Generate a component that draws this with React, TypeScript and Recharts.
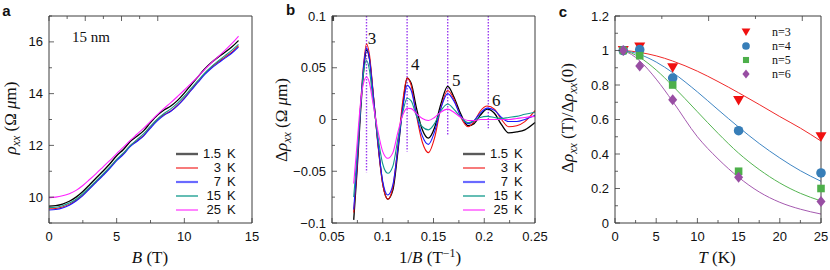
import type { ReactNode } from 'react';
import {
  LineChart,
  ComposedChart,
  Line,
  Scatter,
  XAxis,
  YAxis,
  ReferenceLine,
  ReferenceDot,
} from 'recharts';

const SANS = '"Liberation Sans", Arial, Helvetica, sans-serif';
const SERIF = '"Liberation Serif", "Times New Roman", serif';
const FRAME = '#3c3c3c';

// ---------- panel a : rho_xx vs B ----------
const fieldB = [
  0, 0.5, 1, 1.5, 2, 2.5, 3, 3.5, 4, 4.5, 5, 5.5, 6, 6.5, 7, 7.5, 8, 8.5, 9, 9.5, 10, 10.5, 11,
  11.5, 12, 12.5, 13, 13.5, 14,
];
const rho1p5 = [
  9.65, 9.67, 9.73, 9.84, 10.0, 10.22, 10.48, 10.75, 11.01, 11.29, 11.6, 11.84, 12.15, 12.35, 12.57,
  12.88, 13.16, 13.37, 13.52, 13.74, 14.02, 14.34, 14.65, 14.95, 15.2, 15.41, 15.6, 15.8, 16.05,
];
const rho3 = [
  9.55, 9.56, 9.62, 9.72, 9.88, 10.09, 10.35, 10.61, 10.87, 11.14, 11.45, 11.68, 11.99, 12.18, 12.39,
  12.71, 12.99, 13.19, 13.33, 13.55, 13.83, 14.15, 14.46, 14.77, 15.02, 15.22, 15.41, 15.6, 15.85,
];
const rho7 = [
  9.5, 9.52, 9.58, 9.69, 9.85, 10.06, 10.32, 10.58, 10.84, 11.11, 11.41, 11.65, 11.95, 12.15, 12.37,
  12.67, 12.95, 13.16, 13.32, 13.54, 13.81, 14.12, 14.43, 14.73, 14.98, 15.18, 15.37, 15.56, 15.8,
];
const rho15 = [
  9.6, 9.61, 9.67, 9.77, 9.92, 10.13, 10.38, 10.64, 10.9, 11.17, 11.46, 11.71, 11.99, 12.22, 12.45,
  12.74, 13.01, 13.23, 13.41, 13.63, 13.9, 14.2, 14.5, 14.79, 15.04, 15.26, 15.47, 15.67, 15.9,
];
const rho25 = [
  9.98, 10.0, 10.05, 10.13, 10.26, 10.45, 10.68, 10.92, 11.17, 11.42, 11.68, 11.93, 12.19, 12.43,
  12.67, 12.93, 13.19, 13.43, 13.65, 13.89, 14.14, 14.4, 14.66, 14.93, 15.19, 15.43, 15.67, 15.93,
  16.22,
];
const aXTicks = [0, 2.5, 5, 7.5, 10, 12.5, 15];
const aXMajor = [0, 5, 10, 15];
const aYTicks = [9, 10, 11, 12, 13, 14, 15, 16, 17];
const aYMajor = [10, 12, 14, 16];

// ---------- panel b : delta rho vs 1/B ----------
const invB = [
  0.0714, 0.075, 0.078, 0.081, 0.084, 0.087, 0.09, 0.095, 0.1, 0.105, 0.11, 0.115, 0.12, 0.124,
  0.128, 0.133, 0.139, 0.145, 0.151, 0.157, 0.164, 0.17, 0.177, 0.184, 0.19, 0.196, 0.203, 0.21,
  0.217, 0.224, 0.232, 0.24, 0.25,
];
const d1p5 = [
  -0.097, -0.045, 0.005, 0.045, 0.067, 0.058, 0.03, -0.02, -0.062, -0.077, -0.068, -0.03, 0.015,
  0.04, 0.035, 0.012, -0.01, -0.018, -0.008, 0.014, 0.032, 0.022, 0.005, -0.006, -0.004, 0.004,
  0.01, 0.006, -0.005, -0.013, -0.012, -0.01, -0.003,
];
const d3 = [
  -0.09, -0.04, 0.012, 0.052, 0.073, 0.062, 0.032, -0.022, -0.063, -0.077, -0.065, -0.025, 0.02,
  0.04, 0.033, 0.005, -0.022, -0.032, -0.018, 0.01, 0.028, 0.02, 0.002, -0.007, -0.002, 0.008,
  0.013, 0.01, 0.0, -0.007, -0.006, -0.002, 0.0085,
];
const d7 = [
  -0.087, -0.038, 0.01, 0.05, 0.069, 0.058, 0.03, -0.02, -0.06, -0.073, -0.063, -0.027, 0.013,
  0.033, 0.028, 0.006, -0.016, -0.024, -0.012, 0.01, 0.025, 0.018, 0.003, -0.004, -0.001, 0.006,
  0.011, 0.009, 0.002, -0.002, -0.002, 0.0, 0.004,
];
const d15 = [
  -0.075, -0.03, 0.01, 0.045, 0.057, 0.047, 0.022, -0.015, -0.043, -0.052, -0.045, -0.018, 0.008,
  0.0205, 0.018, 0.004, -0.007, -0.01, -0.004, 0.008, 0.015, 0.01, 0.002, -0.003, -0.001, 0.002,
  0.003, 0.002, 0.001, 0.002, 0.003, 0.005, 0.007,
];
const d25 = [
  -0.062, -0.02, 0.015, 0.035, 0.041, 0.035, 0.018, -0.01, -0.031, -0.0375, -0.032, -0.012, 0.005,
  0.0108, 0.0105, 0.006, 0.001, -0.001, 0.002, 0.007, 0.01, 0.007, 0.002, -0.001, -0.001, 0.0, 0.0,
  0.0, 0.0, 0.0, 0.001, 0.002, 0.003,
];
const peakInvB = [0.084, 0.124, 0.164, 0.204];
const peakLineEnd = [-0.051, -0.031, -0.016, -0.0085];
const peakIndex = ['3', '4', '5', '6'];
const peakLabelX = [0.0894, 0.1321, 0.1725, 0.2119];
const peakLabelY = [0.0784, 0.0533, 0.0382, 0.0188];
const bXTicks = [0.05, 0.075, 0.1, 0.125, 0.15, 0.175, 0.2, 0.225, 0.25];
const bXMajor = [0.05, 0.1, 0.15, 0.2, 0.25];
const bYTicks = [-0.1, -0.075, -0.05, -0.025, 0, 0.025, 0.05, 0.075, 0.1];
const bYMajor = [-0.1, -0.05, 0, 0.05, 0.1];

// ---------- panel c : normalised amplitude vs T ----------
const temps = [1, 3, 7, 15, 25];
const amp3 = [1.0, 1.02, 0.9, 0.71, 0.5];
const amp4 = [1.0, 1.005, 0.84, 0.535, 0.29];
const amp5 = [1.0, 0.97, 0.8, 0.3, 0.2];
const amp6 = [1.0, 0.91, 0.715, 0.265, 0.125];
const fitT = [1, 2, 3, 5, 7, 10, 12.5, 15, 17.5, 20, 22.5, 25];
const fit3 = [1.0, 0.996, 0.989, 0.969, 0.939, 0.88, 0.82, 0.755, 0.687, 0.617, 0.55, 0.475];
const fit4 = [1.0, 0.991, 0.977, 0.933, 0.872, 0.76, 0.657, 0.556, 0.461, 0.377, 0.303, 0.242];
const fit5 = [1.0, 0.985, 0.96, 0.887, 0.795, 0.645, 0.52, 0.405, 0.31, 0.232, 0.172, 0.128];
const fit6 = [1.0, 0.977, 0.94, 0.834, 0.705, 0.5, 0.372, 0.265, 0.18, 0.12, 0.08, 0.052];
const cXTicks = [0, 2.5, 5, 7.5, 10, 12.5, 15, 17.5, 20, 22.5, 25];
const cXMajor = [0, 5, 10, 15, 20, 25];
const cYTicks = [0, 0.1, 0.2, 0.3, 0.4, 0.5, 0.6, 0.7, 0.8, 0.9, 1, 1.1, 1.2];
const cYMajor = [0, 0.2, 0.4, 0.6, 0.8, 1, 1.2];

const tempLabels = ['1.5', '3', '7', '15', '25'];
const tempStyle = [
  { color: '#000000', width: 1.3, legend: '#5a5a5a', legendWidth: 2.4 },
  { color: '#f01010', width: 1.1, legend: '#f01010', legendWidth: 1.1 },
  { color: '#1a1aff', width: 1.1, legend: '#6a6aff', legendWidth: 2.2 },
  { color: '#109a8c', width: 1.1, legend: '#109a8c', legendWidth: 1.3 },
  { color: '#ff20ff', width: 1.1, legend: '#ff20ff', legendWidth: 1.1 },
];
const seriesKeys = ['t1', 't3', 't7', 't15', 't25'];

const nLabels = ['n=3', 'n=4', 'n=5', 'n=6'];
const nColor = ['#f01010', '#377eb8', '#4daf4a', '#984ea3'];
const nLine = ['#f02a2a', '#3f86c4', '#55b552', '#a55ab0'];

type Side = 'bottom' | 'top' | 'left' | 'right';

const fmtPlain = (v: number) => String(v);
const fmtSigned = (v: number) => (v === 0 ? '0' : (v < 0 ? '\u2212' : '') + String(Math.abs(v)));

function makeTick(side: Side, majors: number[], fmt?: (v: number) => string) {
  return function Tick(props: any) {
    const { x, y, payload } = props;
    const v = payload.value as number;
    const major = majors.some((m) => Math.abs(m - v) < 1e-9);
    const len = major ? 5 : 3;
    let x2 = x;
    let y2 = y;
    if (side === 'bottom') y2 = y - len;
    if (side === 'top') y2 = y + len;
    if (side === 'left') x2 = x + len;
    if (side === 'right') x2 = x - len;
    return (
      <g>
        <line x1={x} y1={y} x2={x2} y2={y2} stroke={FRAME} strokeWidth={0.8} />
        {fmt && major && side === 'bottom' && (
          <text x={x} y={y + 18} textAnchor="middle" fontFamily={SANS} fontSize={13} fill="#111">
            {fmt(v)}
          </text>
        )}
        {fmt && major && side === 'left' && (
          <text x={x - 6} y={y + 4.5} textAnchor="end" fontFamily={SANS} fontSize={13} fill="#111">
            {fmt(v)}
          </text>
        )}
      </g>
    );
  };
}

function frameAxes(
  xDom: [number, number],
  xTicks: number[],
  xMajor: number[],
  xFmt: (v: number) => string,
  yDom: [number, number],
  yTicks: number[],
  yMajor: number[],
  yFmt: (v: number) => string,
  yWidth: number,
  xKey: string,
) {
  const common = {
    type: 'number' as const,
    interval: 0 as const,
    tickSize: 0,
    tickMargin: 0,
    tickLine: false,
    axisLine: { stroke: FRAME, strokeWidth: 1 },
  };
  return [
    <XAxis key="xb" xAxisId={0} dataKey={xKey} domain={xDom} ticks={xTicks} height={30}
      tick={makeTick('bottom', xMajor, xFmt)} {...common} />,
    <XAxis key="xt" xAxisId="top" orientation="top" domain={xDom} ticks={xTicks} height={1}
      tick={makeTick('top', xMajor)} {...common} />,
    <YAxis key="yl" yAxisId={0} domain={yDom} ticks={yTicks} width={yWidth}
      tick={makeTick('left', yMajor, yFmt)} {...common} />,
    <YAxis key="yr" yAxisId="right" orientation="right" domain={yDom} ticks={yTicks} width={1}
      tick={makeTick('right', yMajor)} {...common} />,
  ];
}

function Txt({ x, y, size = 17, rotate = false, font = SERIF, weight = 400, children }: {
  x: number; y: number; size?: number; rotate?: boolean; font?: string; weight?: number; children: ReactNode;
}) {
  return (
    <div
      style={{
        position: 'absolute', left: x, top: y, fontFamily: font, fontSize: size, fontWeight: weight,
        lineHeight: 1, whiteSpace: 'nowrap', color: '#111',
        transform: `translate(-50%, -50%)${rotate ? ' rotate(-90deg)' : ''}`,
      }}
    >
      {children}
    </div>
  );
}

const Sub = ({ children }: { children: ReactNode }) => (
  <span style={{ fontSize: '0.7em', position: 'relative', top: '0.3em', fontStyle: 'italic' }}>{children}</span>
);

function TempLegend({ left, top }: { left: number; top: number }) {
  return (
    <div style={{ position: 'absolute', left, top, width: 62, fontFamily: SANS, fontSize: 13, color: '#111' }}>
      {tempLabels.map((t, i) => (
        <div key={t} style={{ position: 'relative', height: 14 }}>
          <svg width={23} height={14} style={{ position: 'absolute', left: 0, top: 0 }}>
            <line x1={0} y1={7} x2={22} y2={7} stroke={tempStyle[i].legend} strokeWidth={tempStyle[i].legendWidth} />
          </svg>
          <span style={{ position: 'absolute', right: 17, top: 0, lineHeight: '14px' }}>{t}</span>
          <span style={{ position: 'absolute', left: 51, top: 0, lineHeight: '14px' }}>K</span>
        </div>
      ))}
    </div>
  );
}

function markerPath(kind: number, cx: number, cy: number, s = 1) {
  if (kind === 0) return `M${cx - 5.5 * s},${cy - 4.5 * s}L${cx + 5.5 * s},${cy - 4.5 * s}L${cx},${cy + 5 * s}Z`;
  if (kind === 2) return `M${cx - 3.8 * s},${cy - 3.8 * s}h${7.6 * s}v${7.6 * s}h${-7.6 * s}Z`;
  if (kind === 3) return `M${cx},${cy - 5.5 * s}L${cx + 4.5 * s},${cy}L${cx},${cy + 5.5 * s}L${cx - 4.5 * s},${cy}Z`;
  return '';
}

function Marker({ kind, cx, cy, fill, s = 1 }: { kind: number; cx: number; cy: number; fill: string; s?: number }) {
  if (kind === 1) return <circle cx={cx} cy={cy} r={4.8 * s} fill={fill} />;
  return <path d={markerPath(kind, cx, cy, s)} fill={fill} />;
}

function PanelA() {
  const rows = fieldB.map((b, i) => ({
    b, t1: rho1p5[i], t3: rho3[i], t7: rho7[i], t15: rho15[i], t25: rho25[i],
  }));
  return (
    <LineChart width={270} height={270} data={rows} margin={{ top: 15, right: 17, bottom: 17, left: 0 }}>
      {frameAxes([0, 15], aXTicks, aXMajor, fmtPlain, [9, 17], aYTicks, aYMajor, fmtPlain, 49, 'b')}
      {seriesKeys.map((k, i) => (
        <Line key={k} dataKey={k} type="monotone" dot={false} stroke={tempStyle[i].color}
          strokeWidth={tempStyle[i].width} isAnimationActive={false} />
      ))}
    </LineChart>
  );
}

function PanelB() {
  const rows = invB.map((x, i) => ({
    x, t1: d1p5[i], t3: d3[i], t7: d7[i], t15: d15[i], t25: d25[i],
  }));
  return (
    <LineChart width={290} height={270} data={rows} margin={{ top: 15, right: 29, bottom: 17, left: 0 }}>
      {frameAxes([0.05, 0.25], bXTicks, bXMajor, fmtPlain, [-0.1, 0.1], bYTicks, bYMajor, fmtSigned, 57, 'x')}
      {peakInvB.map((p, i) => (
        <ReferenceLine key={`pl${i}`} segment={[{ x: p, y: 0.1 }, { x: p, y: peakLineEnd[i] }]}
          stroke="#9a3cf0" strokeWidth={1.4} strokeDasharray="1.4 1.6" />
      ))}
      {seriesKeys.map((k, i) => (
        <Line key={k} dataKey={k} type="monotone" dot={false} stroke={tempStyle[i].color}
          strokeWidth={tempStyle[i].width} isAnimationActive={false} />
      ))}
      {peakIndex.map((n, i) => (
        <ReferenceDot key={`pd${i}`} x={peakLabelX[i]} y={peakLabelY[i]} r={0.5} fill="none" stroke="none"
          label={{ value: n, position: 'center', fontSize: 17, fontFamily: SERIF, fill: '#111' }} />
      ))}
    </LineChart>
  );
}

function PanelC() {
  const fitRows = fitT.map((T, i) => ({ T, f3: fit3[i], f4: fit4[i], f5: fit5[i], f6: fit6[i] }));
  const ampSets = [amp3, amp4, amp5, amp6];
  const fitKeys = ['f3', 'f4', 'f5', 'f6'];
  return (
    <ComposedChart width={280} height={270} data={fitRows} margin={{ top: 15, right: 8, bottom: 17, left: 0 }}>
      {frameAxes([0, 25], cXTicks, cXMajor, fmtPlain, [0, 1.2], cYTicks, cYMajor, fmtPlain, 65, 'T')}
      {fitKeys.map((k, i) => (
        <Line key={k} dataKey={k} type="monotone" dot={false} stroke={nLine[i]} strokeWidth={1}
          isAnimationActive={false} />
      ))}
      {ampSets.map((a, i) => (
        <Scatter key={`s${i}`} data={temps.map((T, j) => ({ T, v: a[j] }))} dataKey="v" fill={nColor[i]}
          isAnimationActive={false}
          shape={(p: any) => <Marker kind={i} cx={p.cx} cy={p.cy} fill={nColor[i]} />} />
      ))}
    </ComposedChart>
  );
}

export default function App() {
  return (
    <div style={{ position: 'absolute', left: 0, top: 0, width: 830, height: 270, background: '#fff', overflow: 'hidden' }}>
      <div style={{ position: 'absolute', left: 0, top: 0 }}><PanelA /></div>
      <div style={{ position: 'absolute', left: 275, top: 0 }}><PanelB /></div>
      <div style={{ position: 'absolute', left: 550, top: 0 }}><PanelC /></div>

      <Txt x={6.5} y={10} size={15} font={SANS} weight={700}>a</Txt>
      <Txt x={290.5} y={9} size={15} font={SANS} weight={700}>b</Txt>
      <Txt x={563} y={11} size={15} font={SANS} weight={700}>c</Txt>

      <Txt x={91} y={37} size={15}>15 nm</Txt>
      <Txt x={150} y={257}><i>B</i> (T)</Txt>
      <Txt x={10} y={118} rotate><i>ρ</i><Sub>xx</Sub> (Ω <i>μ</i>m)</Txt>

      <Txt x={430} y={257}>1/<i>B</i> (T<sup style={{ fontSize: '0.7em' }}>−1</sup>)</Txt>
      <Txt x={281} y={120} rotate>Δ<i>ρ</i><Sub>xx</Sub> (Ω <i>μ</i>m)</Txt>

      <Txt x={717} y={257}><i>T</i> (K)</Txt>
      <Txt x={567} y={118} rotate>Δ<i>ρ</i><Sub>xx</Sub> (T)/Δ<i>ρ</i><Sub>xx</Sub>(0)</Txt>

      <TempLegend left={176} top={147} />
      <TempLegend left={463} top={147} />

      <div style={{ position: 'absolute', left: 739, top: 25, fontFamily: SERIF, fontSize: 12, color: '#111' }}>
        {nLabels.map((t, i) => (
          <div key={t} style={{ position: 'relative', height: 14 }}>
            <svg width={14} height={14} style={{ position: 'absolute', left: 0, top: 0 }}>
              <Marker kind={i} cx={7} cy={7} fill={nColor[i]} s={0.8} />
            </svg>
            <span style={{ position: 'absolute', left: 33, top: 0, lineHeight: '14px', fontSize: 12 }}>{t}</span>
          </div>
        ))}
      </div>
    </div>
  );
}
